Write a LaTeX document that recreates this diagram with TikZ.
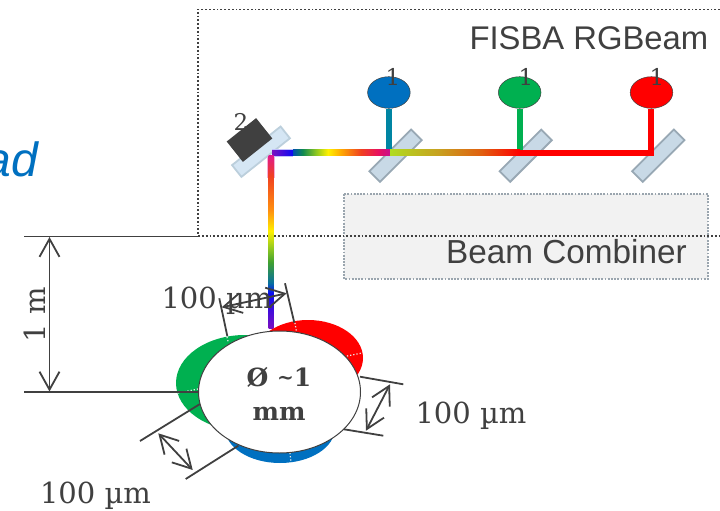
\documentclass[tikz,border=0pt]{standalone}
\usepackage{fontspec}
\setmainfont{Liberation Sans}
\newfontfamily\dimfont{DejaVu Serif}
\usepackage{xcolor}
\usetikzlibrary{arrows.meta, shapes.geometric}
\definecolor{inkgray}{HTML}{404040}
\definecolor{laserblue}{HTML}{0070C0}
\definecolor{lasergreen}{HTML}{00B050}
\definecolor{laserred}{HTML}{FF0000}
\definecolor{boxgray}{HTML}{9AA5AE}
\definecolor{mirrorfill}{HTML}{C8D9E6}
\definecolor{mirroredge}{HTML}{98A8B4}
\definecolor{turnfill}{HTML}{D5E6F4}
\definecolor{turnedge}{HTML}{BCCFDC}
\definecolor{bPurple}{HTML}{7A10C0}
\definecolor{bBlue}{HTML}{0A0AF5}
\definecolor{bDeep}{HTML}{0050B0}
\definecolor{bTeal}{HTML}{108A50}
\definecolor{bLime}{HTML}{90C820}
\definecolor{bYellow}{HTML}{FFF000}
\definecolor{bAmber}{HTML}{FFB000}
\definecolor{bScarlet}{HTML}{F04020}
\definecolor{bRose}{HTML}{E81060}
\definecolor{bMagenta}{HTML}{C8108C}
\definecolor{bLeaf}{HTML}{B0DC20}
\definecolor{bOchre}{HTML}{C8A020}
\definecolor{bRust}{HTML}{E06010}
\definecolor{bSea}{HTML}{0870A0}
\definecolor{bGrass}{HTML}{40A030}
\definecolor{bOrange}{HTML}{FF9010}
\definecolor{bPink}{HTML}{E01890}
% 25bp..75bp of these is what the beam pieces show
\pgfdeclarehorizontalshading{beamshort}{100bp}{
  color(0bp)=(bPurple); color(25bp)=(bPurple);
  color(75bp)=(bBlue); color(100bp)=(bBlue)}
\pgfdeclarehorizontalshading{beamfirst}{100bp}{
  color(0bp)=(bDeep); color(25bp)=(bDeep);
  color(30bp)=(bTeal); color(37bp)=(bLime);
  color(43bp)=(bYellow); color(49bp)=(bAmber);
  color(60bp)=(bScarlet); color(69bp)=(bRose);
  color(75bp)=(bMagenta); color(100bp)=(bMagenta)}
\pgfdeclarehorizontalshading{beamsecond}{100bp}{
  color(0bp)=(bLeaf); color(25bp)=(bLeaf);
  color(44bp)=(bOchre); color(60bp)=(bRust);
  color(75bp)=(laserred); color(100bp)=(laserred)}
\pgfdeclareverticalshading{beamdown}{100bp}{
  color(0bp)=(bPurple); color(25bp)=(bPurple);
  color(35bp)=(bBlue); color(38bp)=(bSea);
  color(44bp)=(bGrass); color(48bp)=(bLime);
  color(53bp)=(bYellow); color(59bp)=(bOrange);
  color(69bp)=(bScarlet); color(75bp)=(bPink); color(100bp)=(bPink)}

\begin{document}
\begin{tikzpicture}[x=1pt, y=-1pt, >={Straight Barb[length=18pt,width=20pt]},
  dimline/.style={draw=inkgray, line width=1.8pt},
  seam/.style={draw=white!85!gray, line width=1.2pt, dotted},
  dimtext/.style={text=inkgray, inner sep=0pt, font={\fontsize{29}{31}\selectfont\dimfont}},
  sanstext/.style={text=inkgray, inner sep=0pt, font={\fontsize{#1}{35}\selectfont}},
  mirror/.style={draw=mirroredge, fill=mirrorfill, line width=1.8pt, rectangle, inner sep=0pt, rotate=45,
    minimum width=59pt, minimum height=15pt},
  laser/.style={ellipse, draw=inkgray, fill=#1, line width=0.5pt, inner sep=0pt,
    minimum width=42.6pt, minimum height=31.6pt},
  tag/.style={text=inkgray, inner sep=0pt, font={\fontsize{23}{23}\selectfont\dimfont}}]

\useasboundingbox (0,0) rectangle (720,511);

% blue text cut by the left edge
\begin{scope}
  \clip (0,0) rectangle (720,511);
  \node[anchor=base east, inner sep=0pt, text=laserblue] (titleEnd) at (38,176)
    {\fontsize{48}{48}\selectfont\itshape ad};
\end{scope}

% boxes
\draw[draw=boxgray, fill=black!5, line width=1.6pt, dash pattern=on 1.8pt off 1.4pt] (344,194) rectangle (708,279);
\draw[inkgray, line width=1.8pt, dash pattern=on 1.8pt off 2pt] (720,9.5) -- (198,9.5) -- (198,236) -- (720,236);
\node[sanstext=32.8, anchor=base east] (fisba) at (708.5,50) {FISBA RGBeam};
\node[sanstext=33.3, anchor=base east] (combiner) at (687,263) {Beam Combiner};

% mirrors
\foreach \m/\xm in {a/395.5, b/525.7, c/658.3} {
  \node[mirror] (mirror\m) at (\xm,155.7) {};
}
\node[mirror, draw=turnedge, fill=turnfill, rotate=-6.5, minimum width=62pt, minimum height=15pt] (mirrorTurn) at (261,151.7) {};
\node[fill=inkgray, inner sep=0pt, rotate=38.5, minimum width=37.6pt, minimum height=26pt] (block) at (249.5,140) {};

% lasers and their beams
\foreach \n/\xl/\col/\yb in {a/388.9/laserblue!85!green/150, b/519.7/lasergreen/150, c/651/laserred/156} {
  \fill[\col] (\xl-3,109) rectangle (\xl+3,\yb);
}
\foreach \n/\xl/\col/\xt in {a/388.9/laserblue/393, b/519.7/lasergreen/526, c/651.5/laserred/657} {
  \node[laser=\col] (laser\n) at (\xl,92.5) {};
  \node[tag] (tag\n) at (\xt,77) {1};
}
\node[tag] (tagTurn) at (241,122) {2};

% combined beam, piece by piece
\fill[bBlue!25] (272,148.7) rectangle (293,157);
\fill[bPink!35] (266.8,157) rectangle (275,178);
\shade[shading=beamshort] (272,150) rectangle (293,155.8);
\shade[shading=beamfirst] (293,149.7) rectangle (390,155.8);
\shade[shading=beamsecond] (390,149.7) rectangle (520,155.8);
\fill[laserred] (520,149.7) rectangle (654,155.8);
\shade[shading=beamdown] (268.5,155) rectangle (273.5,328);

% spot on the screen
\fill[lasergreen] (245,383) ellipse (69 and 48);
\fill[laserred] (308,358) ellipse (55 and 38);
\fill[laserblue] (280,428) ellipse (55 and 35);
\draw[seam] (227,337) -- (228.5,343);
\draw[seam] (295,323) -- (296.5,332);
\draw[seam] (347,356) -- (362,353);
\draw[seam] (178,393) -- (198,389);
\draw[seam] (290,453) -- (291,463);
\node[ellipse, draw=inkgray, fill=white, line width=1pt, inner sep=0pt,
  minimum width=162pt, minimum height=122pt] (spot) at (279.5,392) {};
\node[text=inkgray, inner sep=0pt, align=center, font={\fontsize{25}{34}\selectfont\dimfont\bfseries}]
  (spotText) at (279,394) {Ø \raisebox{2pt}{\fontsize{20}{20}\selectfont\textasciitilde}1\\mm};

% 1 m
\coordinate (topA) at (24,236.5);
\coordinate (topB) at (198,236.5);
\coordinate (lowA) at (24,392);
\draw[dimline] (topA) -- (topB);
\draw[dimline] (lowA) -- (spot.west);
\draw[dimline, <->] (49.5,237) -- (49.5,391.5);
\node[dimtext, rotate=90] (metre) at (35,315) {1 m};

% 100 um, upper
\draw[dimline] (219.3,298.3) -- (227.3,336);
\draw[dimline] (285,283.3) -- (294.3,322.7);
\draw[dimline, <->] (221.7,307.3) -- (286.7,293.3);
\node[dimtext] (widthUpper) at (217,301) {100 µm};

% 100 um, right
\draw[dimline] (360,376.7) -- (403.3,384.3);
\draw[dimline] (344,429.3) -- (383.3,435.7);
\draw[dimline, <->] (390,384.3) -- (366,430.7);
\node[dimtext] (widthRight) at (471,416) {100 µm};

% 100 um, lower
\draw[dimline] (200,404) -- (140,441);
\draw[dimline] (238.3,445.7) -- (185.7,479);
\draw[dimline, <->] (158.3,433.3) -- (192.7,470);
\node[dimtext] (widthLower) at (95.5,496) {100 µm};

\end{tikzpicture}
\end{document}
